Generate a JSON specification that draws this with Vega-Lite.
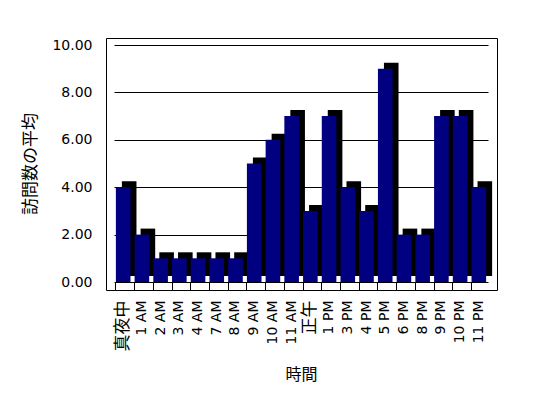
{
  "$schema": "https://vega.github.io/schema/vega-lite/v6.json",
  "width": 391,
  "height": 252,
  "autosize": {"type": "none"},
  "padding": {"left": 106, "top": 38, "right": 51, "bottom": 108},
  "background": "white",
  "data": {
    "values": [
      {"hour": "真夜中", "avg": 4},
      {"hour": "1 AM", "avg": 2},
      {"hour": "2 AM", "avg": 1},
      {"hour": "3 AM", "avg": 1},
      {"hour": "4 AM", "avg": 1},
      {"hour": "7 AM", "avg": 1},
      {"hour": "8 AM", "avg": 1},
      {"hour": "9 AM", "avg": 5},
      {"hour": "10 AM", "avg": 6},
      {"hour": "11 AM", "avg": 7},
      {"hour": "正午", "avg": 3},
      {"hour": "1 PM", "avg": 7},
      {"hour": "3 PM", "avg": 4},
      {"hour": "4 PM", "avg": 3},
      {"hour": "5 PM", "avg": 9},
      {"hour": "6 PM", "avg": 2},
      {"hour": "8 PM", "avg": 2},
      {"hour": "9 PM", "avg": 7},
      {"hour": "10 PM", "avg": 7},
      {"hour": "11 PM", "avg": 4}
    ]
  },
  "encoding": {
    "x": {
      "field": "hour",
      "type": "nominal",
      "sort": null,
      "scale": {"range": [8, 382], "paddingInner": 0.22, "paddingOuter": 0.1},
      "axis": {
        "title": "時間",
        "titleFont": "Noto Sans CJK JP",
        "titleFontSize": 16,
        "titleFontWeight": "normal",
        "titleColor": "black",
        "titlePadding": 16,
        "offset": -8,
        "labelAngle": -90,
        "labelFont": "DejaVu Sans, Noto Sans CJK JP",
        "labelFontSize": {"condition": {"test": "datum.value === '真夜中' || datum.value === '正午'", "value": 17}, "value": 14},
        "labelColor": "black",
        "labelPadding": 10,
        "bandPosition": 0,
        "tickSize": 8,
        "tickColor": "black",
        "tickWidth": 1,
        "domain": false,
        "grid": false
      }
    },
    "y": {
      "field": "avg",
      "type": "quantitative",
      "scale": {"domain": [0, 10], "range": [244, 7], "nice": false, "zero": true},
      "axis": {
        "title": "訪問数の平均",
        "titleFont": "Noto Sans CJK JP",
        "titleFontSize": 17,
        "titleFontWeight": "normal",
        "titleColor": "black",
        "titlePadding": 12,
        "values": [0, 2, 4, 6, 8, 10],
        "format": ".2f",
        "labelFont": "DejaVu Sans",
        "labelFontSize": 14,
        "labelColor": "black",
        "labelPadding": 14,
        "ticks": false,
        "domain": false,
        "grid": true,
        "gridColor": "black",
        "gridOpacity": 1,
        "gridWidth": 1
      }
    }
  },
  "layer": [
    {
      "mark": {"type": "bar", "color": "black", "xOffset": 6, "x2Offset": 6, "yOffset": -6, "y2Offset": -6}
    },
    {
      "mark": {"type": "bar", "color": "#000080"}
    }
  ],
  "config": {
    "view": {"stroke": "black", "strokeWidth": 1}
  }
}
